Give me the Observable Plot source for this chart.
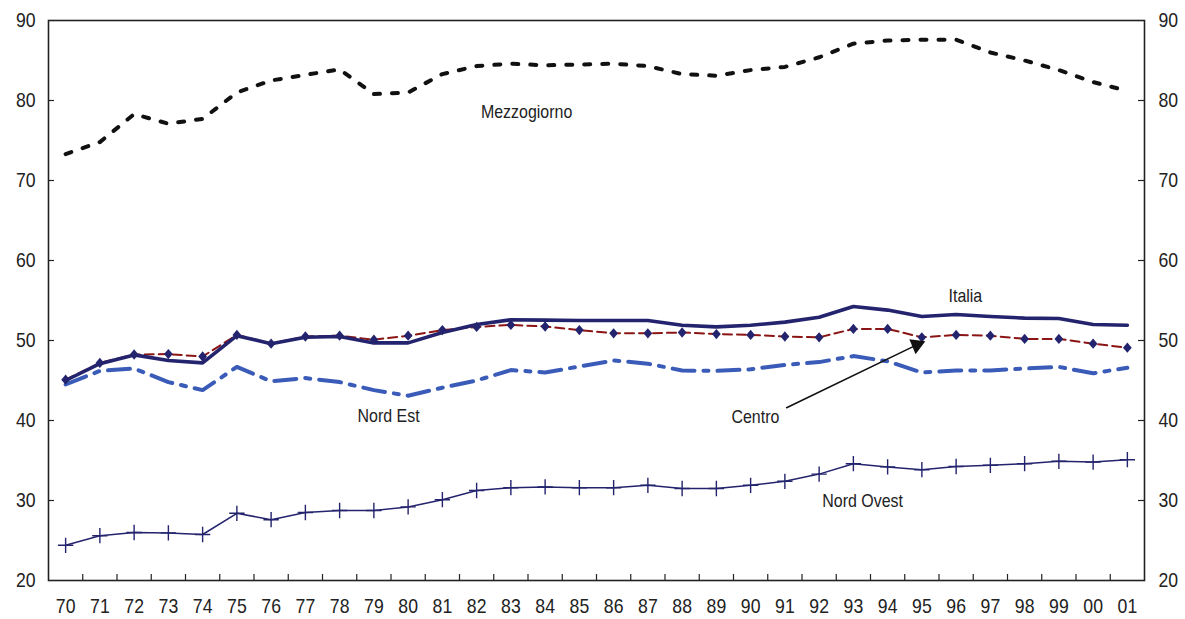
<!DOCTYPE html>
<html>
<head>
<meta charset="utf-8">
<script src="https://cdn.jsdelivr.net/npm/d3@7"></script>
<script src="https://cdn.jsdelivr.net/npm/@observablehq/plot@0.6"></script>
<style>
  html, body { margin: 0; padding: 0; background: #fff; }
</style>
</head>
<body>
<div id="chart"></div>
<script>
const years = ["70","71","72","73","74","75","76","77","78","79","80","81","82","83","84","85",
               "86","87","88","89","90","91","92","93","94","95","96","97","98","99","00","01"];
const yTicks = [20, 30, 40, 50, 60, 70, 80, 90];

const mezzogiorno = [73.3,74.8,78.3,77.1,77.7,81.0,82.5,83.2,83.9,80.8,81.0,83.3,84.3,84.6,84.4,84.5,
                     84.6,84.3,83.3,83.1,83.8,84.2,85.4,87.1,87.5,87.6,87.6,86.0,85.0,83.8,82.3,81.2];
const italia = [45.0,47.1,48.2,47.5,47.2,50.6,49.6,50.4,50.5,49.7,49.7,51.0,52.0,52.6,52.55,52.5,
                52.5,52.5,51.9,51.7,51.9,52.3,52.9,54.25,53.8,53.0,53.25,53.0,52.8,52.75,52.0,51.9];
const centro = [45.1,47.2,48.25,48.3,48.0,50.7,49.6,50.5,50.6,50.1,50.6,51.3,51.7,51.95,51.75,51.3,
                50.9,50.9,51.0,50.8,50.7,50.5,50.4,51.45,51.45,50.4,50.7,50.6,50.2,50.2,49.6,49.1];
const nordEst = [44.5,46.2,46.5,44.8,43.8,46.7,44.9,45.3,44.8,43.8,43.1,44.1,45.0,46.3,46.0,46.75,
                 47.5,47.1,46.25,46.2,46.4,46.95,47.3,48.05,47.4,46.0,46.25,46.25,46.5,46.7,45.9,46.6];
const nordOvest = [24.4,25.6,26.0,25.95,25.75,28.4,27.6,28.5,28.75,28.75,29.2,30.1,31.25,31.6,31.7,31.6,
                   31.6,31.9,31.5,31.5,31.9,32.4,33.3,34.6,34.2,33.85,34.25,34.4,34.6,34.9,34.8,35.1];

const seriesLabels = [
  {name: "Mezzogiorno", x: 13.46, y: 78.6},
  {name: "Italia", x: 26.27, y: 55.6},
  {name: "Nord Est", x: 9.43, y: 40.6},
  {name: "Centro", x: 20.14, y: 40.5},
  {name: "Nord Ovest", x: 23.27, y: 29.9}
];
const arrowCentro = [{x1: 21.05, y1: 41.6, x2: 24.85, y2: 49.45}];

const idx = d3.range(years.length);
const rows = (vals) => vals.map((v, i) => ({i, v}));

const NAVY = "#24246e";
const BLUE = "#3a5cb8";
const RED = "#8b1414";
const FONT = "'Liberation Sans', Arial, sans-serif";

const xPad = 6 / 34.25;   // inward tick length in x units
const yPad = 6 / 8;       // inward tick length in y units

// slightly tall diamond marker
const tallDiamond = {
  draw(context, size) {
    const w = Math.sqrt(size / 3.77);
    const h = w * 1.18;
    context.moveTo(0, -h);
    context.lineTo(w, 0);
    context.lineTo(0, h);
    context.lineTo(-w, 0);
    context.closePath();
  }
};

const chart = Plot.plot({
  width: 1185,
  height: 619,
  marginLeft: 48,
  marginRight: 41,
  marginTop: 20,
  marginBottom: 39,
  style: {fontFamily: FONT, fontSize: "21px", color: "#222", background: "#fff"},
  x: {domain: [-0.5, years.length - 0.5]},
  y: {domain: [20, 90]},
  marks: [
    Plot.frame({stroke: "#222", strokeWidth: 1.6}),
    Plot.axisY({anchor: "left", ticks: yTicks, tickSize: 0, tickPadding: 13, label: null, fill: "#222"}),
    Plot.axisY({anchor: "right", ticks: yTicks, tickSize: 0, tickPadding: 14, label: null, fill: "#222"}),
    Plot.axisX({ticks: idx, tickFormat: (i) => years[i], tickSize: 0, tickPadding: 18, label: null, fill: "#222"}),
    Plot.ruleX(idx.slice(1).map((i) => i - 0.5), {y1: 20, y2: 20 + yPad, stroke: "#222", strokeWidth: 1.2}),
    Plot.ruleY(yTicks.slice(1, -1), {x1: -0.5, x2: -0.5 + xPad, stroke: "#222", strokeWidth: 1.2}),
    Plot.ruleY(yTicks.slice(1, -1), {x1: years.length - 0.5 - xPad, x2: years.length - 0.5, stroke: "#222", strokeWidth: 1.2}),

    // Mezzogiorno
    Plot.line(rows(mezzogiorno), {x: "i", y: "v", stroke: "#111", strokeWidth: 4, strokeDasharray: "6,12"}),
    // Nord Ovest
    Plot.line(rows(nordOvest), {x: "i", y: "v", stroke: NAVY, strokeWidth: 1.5}),
    Plot.dot(rows(nordOvest), {x: "i", y: "v", symbol: "plus", r: 5, stroke: NAVY, strokeWidth: 1.4}),
    // Nord Est
    Plot.line(rows(nordEst), {x: "i", y: "v", stroke: BLUE, strokeWidth: 4, strokeDasharray: "22,9,5,9"}),
    // Centro line
    Plot.line(rows(centro), {x: "i", y: "v", stroke: RED, strokeWidth: 2, strokeDasharray: "9,5"}),
    // Italia
    Plot.line(rows(italia), {x: "i", y: "v", stroke: NAVY, strokeWidth: 3.6}),
    // Centro markers
    Plot.dot(rows(centro), {x: "i", y: "v", symbol: tallDiamond, r: 4.8, fill: NAVY, stroke: "none"}),

    // labels
    Plot.text(seriesLabels, {x: "x", y: "y", text: "name", fontSize: 19, fill: "#222"}),
    Plot.arrow(arrowCentro, {x1: "x1", y1: "y1", x2: "x2", y2: "y2", stroke: "#111", strokeWidth: 1.6, headLength: 0}),
    Plot.dot(arrowCentro, {x: "x2", y: "y2", symbol: "triangle", r: 6, fill: "#111", stroke: "none", rotate: 67})
  ]
});

document.getElementById("chart").appendChild(chart);

// Emulate the narrow typeface of the original by condensing every text horizontally.
chart.querySelectorAll("text").forEach((t) => {
  const len = t.getComputedTextLength();
  if (len > 0) {
    t.setAttribute("textLength", (len * 0.84).toFixed(2));
    t.setAttribute("lengthAdjust", "spacingAndGlyphs");
  }
});
</script>
</body>
</html>
